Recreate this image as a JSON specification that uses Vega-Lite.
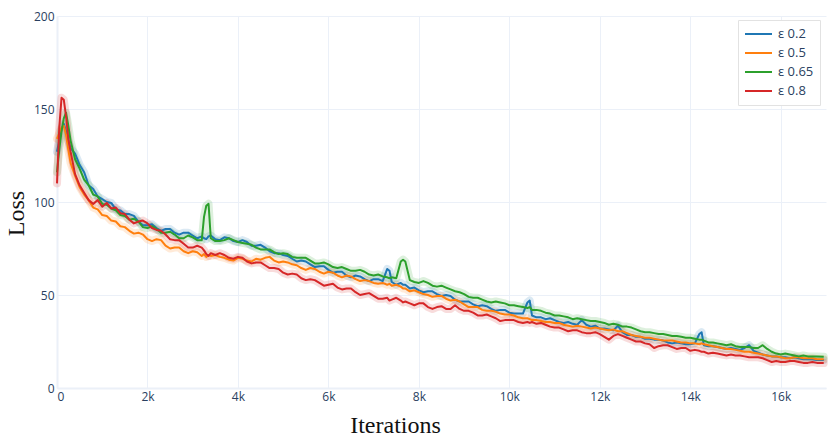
{
  "$schema": "https://vega.github.io/schema/vega-lite/v6.json",
  "width": 769,
  "height": 372,
  "autosize": {"type": "none"},
  "padding": {"left": 57, "top": 16, "right": 5, "bottom": 48},
  "background": "white",
  "config": {"view": {"stroke": null}},
  "data": {"values": [
    {"x":0,"a":127,"b":134,"c":116,"d":110},
    {"x":50,"a":133,"b":137,"c":128,"d":140},
    {"x":100,"a":139,"b":140,"c":138,"d":156},
    {"x":150,"a":142,"b":141,"c":145,"d":155},
    {"x":200,"a":138,"b":136,"c":148,"d":146},
    {"x":250,"a":133,"b":128,"c":141,"d":134},
    {"x":300,"a":129,"b":121,"c":133,"d":127},
    {"x":400,"a":126,"b":114,"c":123,"d":115},
    {"x":500,"a":120,"b":108,"c":118,"d":109},
    {"x":600,"a":116,"b":104,"c":112,"d":105},
    {"x":700,"a":109,"b":101,"c":109,"d":101},
    {"x":800,"a":107,"b":97,"c":104,"d":99},
    {"x":900,"a":103,"b":96,"c":103,"d":101},
    {"x":1000,"a":101.5,"b":93,"c":99,"d":97.5},
    {"x":1100,"a":100,"b":92.5,"c":98.5,"d":99.5},
    {"x":1200,"a":99.5,"b":90,"c":96.5,"d":96.5},
    {"x":1300,"a":96,"b":89.5,"c":95.5,"d":97},
    {"x":1400,"a":95.5,"b":87,"c":93,"d":94},
    {"x":1500,"a":93.5,"b":86.5,"c":92.5,"d":93.5},
    {"x":1600,"a":93.5,"b":84.5,"c":90.5,"d":90.5},
    {"x":1700,"a":92.5,"b":83,"c":91,"d":88.5},
    {"x":1800,"a":89.5,"b":83.5,"c":89.5,"d":89.5},
    {"x":1900,"a":87.5,"b":82.5,"c":86.5,"d":90},
    {"x":2000,"a":87.5,"b":80,"c":86,"d":88.5},
    {"x":2100,"a":88,"b":79,"c":87,"d":86},
    {"x":2200,"a":86,"b":80,"c":85.5,"d":85},
    {"x":2300,"a":84.5,"b":79.5,"c":83.5,"d":84.5},
    {"x":2400,"a":85.5,"b":76.5,"c":83.5,"d":82.5},
    {"x":2500,"a":85.5,"b":75,"c":84,"d":80},
    {"x":2600,"a":83.5,"b":75.5,"c":82.5,"d":79.5},
    {"x":2700,"a":82.5,"b":75.5,"c":80.5,"d":79.5},
    {"x":2800,"a":83.5,"b":73.5,"c":80.5,"d":77.5},
    {"x":2900,"a":83.5,"b":72.5,"c":82,"d":75.5},
    {"x":3000,"a":82,"b":73.5,"c":81,"d":75.5},
    {"x":3100,"a":80.5,"b":73,"c":79.5,"d":76.5},
    {"x":3200,"a":81.5,"b":71,"c":79.5,"d":75.5},
    {"x":3250,"a":80.5,"b":72,"c":92,"d":74},
    {"x":3300,"a":80,"b":70.5,"c":98,"d":72},
    {"x":3350,"a":81.5,"b":71.5,"c":99,"d":71},
    {"x":3400,"a":82,"b":71,"c":80.5,"d":72.5},
    {"x":3500,"a":80,"b":71.5,"c":79,"d":71.5},
    {"x":3600,"a":79.5,"b":70.5,"c":79,"d":72.5},
    {"x":3700,"a":81,"b":70,"c":79.5,"d":71.5},
    {"x":3800,"a":80.5,"b":69,"c":80.5,"d":70},
    {"x":3900,"a":79,"b":68.5,"c":79.5,"d":69.5},
    {"x":4000,"a":78.5,"b":70,"c":78.5,"d":70.5},
    {"x":4100,"a":79.5,"b":69.5,"c":78,"d":70},
    {"x":4200,"a":78.5,"b":68.5,"c":77.5,"d":68},
    {"x":4300,"a":76.5,"b":68,"c":77,"d":67},
    {"x":4400,"a":76.5,"b":69.5,"c":75.5,"d":67.5},
    {"x":4500,"a":77,"b":69,"c":74.5,"d":67.5},
    {"x":4600,"a":75.5,"b":70,"c":74.5,"d":66},
    {"x":4700,"a":73.5,"b":70.5,"c":74.5,"d":64.5},
    {"x":4800,"a":72.5,"b":68.5,"c":73,"d":64.5},
    {"x":4900,"a":72.5,"b":67.5,"c":72,"d":64},
    {"x":5000,"a":71.5,"b":68,"c":72.5,"d":62},
    {"x":5100,"a":71,"b":67.5,"c":72,"d":61},
    {"x":5200,"a":69.5,"b":66.5,"c":70.5,"d":61.5},
    {"x":5300,"a":68,"b":66,"c":70,"d":61},
    {"x":5400,"a":68.5,"b":64.5,"c":70,"d":59},
    {"x":5500,"a":68,"b":63.5,"c":70,"d":58},
    {"x":5600,"a":66.5,"b":64.5,"c":68.5,"d":58.5},
    {"x":5700,"a":65,"b":64,"c":67,"d":58},
    {"x":5800,"a":65.5,"b":62.5,"c":67,"d":56.5},
    {"x":5900,"a":65.5,"b":61.5,"c":67.5,"d":55},
    {"x":6000,"a":63.5,"b":62.5,"c":66.5,"d":55.5},
    {"x":6100,"a":62,"b":62,"c":65,"d":56},
    {"x":6200,"a":62.5,"b":60.5,"c":64.5,"d":54},
    {"x":6300,"a":62.5,"b":59.5,"c":65,"d":53},
    {"x":6400,"a":60.5,"b":60.5,"c":64,"d":53.5},
    {"x":6500,"a":59.5,"b":60,"c":63,"d":53.5},
    {"x":6600,"a":60.5,"b":58.5,"c":63,"d":51.5},
    {"x":6700,"a":60,"b":57.5,"c":63.5,"d":50},
    {"x":6800,"a":58.5,"b":58,"c":62.5,"d":50.5},
    {"x":6900,"a":57.5,"b":57.5,"c":61,"d":51},
    {"x":7000,"a":58.5,"b":56.5,"c":60.5,"d":49.5},
    {"x":7100,"a":58.5,"b":56,"c":61,"d":48},
    {"x":7200,"a":57.5,"b":56.5,"c":60,"d":48},
    {"x":7300,"a":64,"b":55.5,"c":59.5,"d":48.5},
    {"x":7350,"a":63,"b":56,"c":59,"d":47},
    {"x":7400,"a":57,"b":55,"c":59.5,"d":47.5},
    {"x":7500,"a":55.5,"b":55.5,"c":59,"d":48.5},
    {"x":7600,"a":56.5,"b":54.5,"c":68,"d":47},
    {"x":7650,"a":55.5,"b":53.5,"c":69,"d":46},
    {"x":7700,"a":55.5,"b":53.5,"c":68,"d":46.5},
    {"x":7800,"a":53.5,"b":52,"c":58,"d":45.5},
    {"x":7900,"a":54,"b":52.5,"c":57,"d":44.5},
    {"x":8000,"a":52.5,"b":51.5,"c":56.5,"d":45.5},
    {"x":8100,"a":51.5,"b":50.5,"c":57.5,"d":45.5},
    {"x":8200,"a":52,"b":50,"c":56.5,"d":43.5},
    {"x":8300,"a":52,"b":49,"c":55,"d":42.5},
    {"x":8400,"a":50.5,"b":49.5,"c":54.5,"d":43.5},
    {"x":8500,"a":49.5,"b":49.5,"c":55,"d":44},
    {"x":8600,"a":50,"b":48,"c":54,"d":42.5},
    {"x":8700,"a":49.5,"b":47,"c":53,"d":42.5},
    {"x":8800,"a":47.5,"b":47.5,"c":52,"d":44.5},
    {"x":8900,"a":46.5,"b":46.5,"c":51.5,"d":42.5},
    {"x":9000,"a":46.5,"b":45,"c":50.5,"d":41.5},
    {"x":9100,"a":46.5,"b":43.5,"c":49,"d":41.5},
    {"x":9200,"a":45,"b":43.5,"c":48.5,"d":40.5},
    {"x":9300,"a":44,"b":43.5,"c":48.5,"d":39},
    {"x":9400,"a":44.5,"b":42,"c":47.5,"d":39},
    {"x":9500,"a":44,"b":41.5,"c":46.5,"d":39.5},
    {"x":9600,"a":42.5,"b":41.5,"c":46,"d":38.5},
    {"x":9700,"a":41.5,"b":41,"c":46.5,"d":37.5},
    {"x":9800,"a":42,"b":40,"c":46,"d":36},
    {"x":9900,"a":42,"b":39.5,"c":45.5,"d":36.5},
    {"x":10000,"a":40.5,"b":39.5,"c":44.5,"d":36.5},
    {"x":10100,"a":40,"b":39,"c":44.5,"d":36.5},
    {"x":10200,"a":40,"b":38,"c":44,"d":35.5},
    {"x":10300,"a":40,"b":37.5,"c":43.5,"d":35},
    {"x":10400,"a":46,"b":37.5,"c":43,"d":35.5},
    {"x":10450,"a":47,"b":37,"c":43.5,"d":35},
    {"x":10500,"a":39,"b":36.5,"c":42,"d":35.5},
    {"x":10600,"a":38,"b":36.5,"c":42,"d":34.5},
    {"x":10700,"a":38,"b":36,"c":41.5,"d":35},
    {"x":10800,"a":37,"b":35.5,"c":40.5,"d":34},
    {"x":10900,"a":37.5,"b":35.5,"c":40,"d":33},
    {"x":11000,"a":36.5,"b":35,"c":39,"d":32.5},
    {"x":11100,"a":35.5,"b":35,"c":39,"d":32.5},
    {"x":11200,"a":35,"b":34,"c":38.5,"d":31.5},
    {"x":11300,"a":35.5,"b":33.5,"c":38,"d":30.5},
    {"x":11400,"a":34.5,"b":33,"c":37,"d":31},
    {"x":11500,"a":34,"b":33.5,"c":37.5,"d":31},
    {"x":11600,"a":36.5,"b":33,"c":37,"d":30},
    {"x":11700,"a":34,"b":32.5,"c":36.5,"d":29.5},
    {"x":11800,"a":33,"b":32,"c":36,"d":29.5},
    {"x":11900,"a":33.5,"b":32.5,"c":36,"d":30},
    {"x":12000,"a":32,"b":32,"c":35.5,"d":29},
    {"x":12100,"a":32,"b":31.5,"c":35,"d":27.5},
    {"x":12200,"a":31.5,"b":31,"c":34,"d":26},
    {"x":12300,"a":31,"b":31.5,"c":34.5,"d":28},
    {"x":12400,"a":33.5,"b":30.5,"c":34,"d":29},
    {"x":12500,"a":30,"b":30.5,"c":33,"d":28},
    {"x":12600,"a":28.5,"b":29.5,"c":33,"d":27},
    {"x":12700,"a":28.5,"b":28.5,"c":32.5,"d":26},
    {"x":12800,"a":27.5,"b":28,"c":31.5,"d":25},
    {"x":12900,"a":27.5,"b":27.5,"c":30.5,"d":25},
    {"x":13000,"a":26.5,"b":27,"c":30,"d":24},
    {"x":13100,"a":26.5,"b":27,"c":30,"d":23.5},
    {"x":13200,"a":26,"b":26.5,"c":29.5,"d":21.5},
    {"x":13300,"a":26,"b":26,"c":29,"d":22.5},
    {"x":13400,"a":25.5,"b":25.5,"c":29,"d":23},
    {"x":13500,"a":24.5,"b":25.5,"c":28.5,"d":23},
    {"x":13600,"a":24,"b":25.5,"c":28,"d":22},
    {"x":13700,"a":24.5,"b":25,"c":28,"d":21},
    {"x":13800,"a":24,"b":24.5,"c":27.5,"d":21.5},
    {"x":13900,"a":23.5,"b":24.5,"c":27,"d":21.5},
    {"x":14000,"a":23.5,"b":24,"c":27,"d":20},
    {"x":14100,"a":24,"b":24,"c":26.5,"d":20.5},
    {"x":14200,"a":29,"b":23.5,"c":26,"d":20},
    {"x":14250,"a":30,"b":24,"c":26,"d":19.5},
    {"x":14300,"a":23,"b":23.5,"c":25.5,"d":19.5},
    {"x":14400,"a":22.5,"b":23,"c":24.5,"d":18.5},
    {"x":14500,"a":22.5,"b":22.5,"c":24.5,"d":19},
    {"x":14600,"a":22,"b":22,"c":24,"d":18.5},
    {"x":14700,"a":21.5,"b":21.5,"c":23.5,"d":18},
    {"x":14800,"a":21,"b":21,"c":23,"d":17.5},
    {"x":14900,"a":21.5,"b":21,"c":23.5,"d":18},
    {"x":15000,"a":21,"b":20.5,"c":22.5,"d":17.5},
    {"x":15100,"a":20.5,"b":20,"c":22,"d":17.5},
    {"x":15200,"a":21.5,"b":19.5,"c":22,"d":17},
    {"x":15300,"a":23,"b":19.5,"c":22,"d":16.5},
    {"x":15400,"a":20,"b":19,"c":21.5,"d":16.5},
    {"x":15500,"a":19,"b":18.5,"c":21.5,"d":16.5},
    {"x":15600,"a":18,"b":18,"c":23,"d":16},
    {"x":15700,"a":17.5,"b":17.5,"c":21,"d":15},
    {"x":15800,"a":17,"b":17,"c":19.5,"d":14},
    {"x":15900,"a":17,"b":17,"c":18.5,"d":14.5},
    {"x":16000,"a":16.5,"b":16.5,"c":18,"d":14},
    {"x":16100,"a":16.5,"b":16,"c":18.5,"d":14},
    {"x":16200,"a":16,"b":16,"c":18,"d":14.5},
    {"x":16300,"a":16.5,"b":16.5,"c":17.5,"d":14.5},
    {"x":16400,"a":16,"b":16.5,"c":17,"d":14},
    {"x":16500,"a":15.5,"b":16,"c":17.5,"d":13.5},
    {"x":16600,"a":15.5,"b":16,"c":17,"d":13.5},
    {"x":16700,"a":15.5,"b":16,"c":17,"d":14},
    {"x":16800,"a":15,"b":15.5,"c":17,"d":13.5},
    {"x":16950,"a":15,"b":15.5,"c":16.8,"d":13.4}
  ]},
  "transform": [
    {"fold": ["a", "b", "c", "d"], "as": ["key", "loss"]},
    {"lookup": "key", "from": {"data": {"values": [
      {"key": "a", "label": "ε 0.2"},
      {"key": "b", "label": "ε 0.5"},
      {"key": "c", "label": "ε 0.65"},
      {"key": "d", "label": "ε 0.8"}
    ]}, "key": "key", "fields": ["label"]}}
  ],
  "encoding": {
    "x": {
      "field": "x", "type": "quantitative",
      "scale": {"domain": [0, 17000], "nice": false},
      "axis": {
        "values": [0, 2000, 4000, 6000, 8000, 10000, 12000, 14000, 16000],
        "labelExpr": "datum.value === 0 ? '0' : (datum.value / 1000) + 'k'",
        "title": "Iterations",
        "titleFont": "Liberation Serif", "titleFontSize": 24, "titleFontWeight": "normal", "titleColor": "#111111",
        "titleX": 338, "titleY": 44, "titleBaseline": "alphabetic", "titleAlign": "center",
        "labelFont": "Open Sans", "labelFontSize": 12, "labelColor": "#2a3f5f", "labelPadding": 3,
        "ticks": false, "grid": true, "gridColor": "#ebf0f8", "gridWidth": 1,
        "domain": true, "domainColor": "#ebf0f8", "domainWidth": 2
      }
    },
    "y": {
      "field": "loss", "type": "quantitative",
      "scale": {"domain": [0, 200], "nice": false},
      "axis": {
        "values": [0, 50, 100, 150, 200],
        "title": "Loss",
        "titleFont": "Liberation Serif", "titleFontSize": 24, "titleFontWeight": "normal", "titleColor": "#111111",
        "titleX": -34, "titleY": 197, "titleBaseline": "alphabetic", "titleAlign": "center", "titleAngle": 270,
        "labelFont": "Open Sans", "labelFontSize": 12, "labelColor": "#2a3f5f", "labelPadding": 3,
        "ticks": false, "grid": true, "gridColor": "#ebf0f8", "gridWidth": 1,
        "domain": true, "domainColor": "#ebf0f8", "domainWidth": 2
      }
    },
    "color": {
      "field": "label", "type": "nominal",
      "scale": {"domain": ["ε 0.2", "ε 0.5", "ε 0.65", "ε 0.8"], "range": ["#1f77b4", "#ff7f0e", "#2ca02c", "#d62728"]},
      "legend": {
        "title": null, "orient": "none", "legendX": 681, "legendY": 4,
        "fillColor": "white", "strokeColor": "#e2e2e2", "padding": 6,
        "symbolType": "stroke", "symbolSize": 729, "symbolStrokeWidth": 2, "symbolOpacity": 1,
        "labelFont": "Open Sans", "labelFontSize": 13, "labelColor": "#2a3f5f", "labelOffset": 5,
        "clipHeight": 16, "rowPadding": 3
      }
    }
  },
  "layer": [
    {"mark": {"type": "line", "strokeWidth": 8, "opacity": 0.16, "strokeJoin": "round", "strokeCap": "round"}},
    {"mark": {"type": "line", "strokeWidth": 2, "strokeJoin": "round"}}
  ]
}
